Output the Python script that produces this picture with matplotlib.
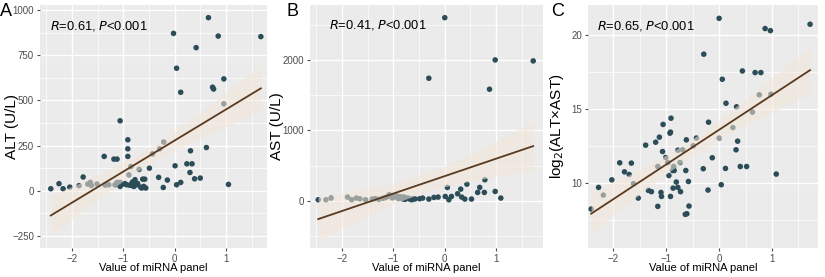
import numpy as np
import matplotlib
matplotlib.use("Agg")
import matplotlib.pyplot as plt
from matplotlib.ticker import MultipleLocator

plt.rcParams['font.family'] = ['Liberation Sans', 'DejaVu Sans']

# ---------------- data ----------------
x_alt = [-2.41, -2.25, -2.17, -2.04, -1.86, -1.78, -1.69, -1.64, -1.62, -1.51, -1.37, -1.35, -1.28,
         -1.18, -1.16, -1.12, -1.12, -1.06, -1.06, -1.06, -1.0, -0.97, -0.93, -0.91, -0.91, -0.91,
         -0.89, -0.87, -0.85, -0.85, -0.82, -0.80, -0.79, -0.77, -0.74, -0.72, -0.69, -0.66, -0.64,
         -0.62, -0.60, -0.58, -0.56, -0.49, -0.43, -0.31, -0.29, -0.22, -0.21, -0.14, -0.02, 0.01,
         0.04, 0.04, 0.12, 0.12, 0.24, 0.30, 0.31, 0.34, 0.39, 0.42, 0.50, 0.62, 0.66, 0.74, 0.76,
         0.85, 0.96, 0.96, 1.05, 1.68]
y_alt = [11, 39, 11, 20, 28, 76, 37, 46, 29, 37, 190, 31, 33,
         175, 33, 175, 46, 46, 387, 24, 37, 40, 33, 282, 232, 190,
         88, 30, 134, 33, 48, 25, 24, 61, 33, 40, 118, 20, 15,
         64, 24, 64, 15, 125, 204, 74, 232, 18, 269, 59, 871, 138,
         678, 33, 545, 46, 149, 101, 221, 149, 66, 792, 70, 239, 958, 573, 563,
         856, 619, 481, 35, 853]

x_ast = [-2.46, -2.31, -2.21, -1.89, -1.81, -1.72, -1.65, -1.54, -1.41, -1.35, -1.28, -1.20, -1.15,
         -1.11, -1.08, -1.05, -1.02, -0.98, -0.95, -0.92, -0.90, -0.88, -0.85, -0.82, -0.80, -0.77,
         -0.74, -0.70, -0.67, -0.64, -0.61, -0.58, -0.49, -0.43, -0.31, -0.31, -0.21, -0.13, 0.00,
         0.01, 0.05, 0.08, 0.13, 0.25, 0.31, 0.33, 0.39, 0.43, 0.52, 0.64, 0.68, 0.77, 0.78, 0.87,
         0.98, 0.98, 1.09, 1.72]
y_ast = [14, 14, 38, 52, 14, 38, 28, 14, 24, 30, 20, 35, 45,
         61, 85, 70, 40, 55, 75, 50, 30, 60, 45, 25, 55, 20,
         40, 35, 20, 15, 30, 25, 28, 38, 24, 1740, 47, 52, 2600,
         61, 189, 14, 61, 99, 165, 52, 24, 236, 24, 118, 189, 118, 298, 1584,
         132, 2000, 38, 1986]

x_log = [-2.42, -2.28, -2.19, -2.03, -1.88, -1.79, -1.70, -1.66, -1.62, -1.53, -1.39, -1.34, -1.28,
         -1.20, -1.16, -1.16, -1.13, -1.10, -1.09, -1.07, -1.06, -1.01, -0.97, -0.95, -0.93, -0.92,
         -0.91, -0.92, -0.88, -0.87, -0.86, -0.85, -0.81, -0.78, -0.78, -0.74, -0.73, -0.69, -0.63,
         -0.62, -0.64, -0.61, -0.58, -0.57, -0.49, -0.43, -0.30, -0.29, -0.21, -0.20, -0.13, 0.00,
         0.00, 0.04, 0.06, 0.12, 0.13, 0.26, 0.32, 0.33, 0.35, 0.40, 0.44, 0.52, 0.63, 0.68, 0.76,
         0.79, 0.87, 0.97, 0.98, 1.08, 1.72]
y_log = [8.25, 9.71, 9.19, 10.22, 11.37, 10.76, 10.58, 11.35, 9.96, 8.99, 12.56, 9.51, 9.42,
         12.76, 8.43, 11.12, 13.10, 9.37, 9.10, 12.13, 13.96, 11.73, 11.39, 10.51, 13.37, 13.44,
         14.38, 9.10, 10.85, 9.66, 11.12, 10.85, 10.07, 12.22, 9.71, 11.39, 9.42, 12.25, 10.85,
         12.92, 7.89, 7.93, 10.11, 8.45, 12.52, 13.04, 10.97, 18.70, 9.53, 14.11, 11.71, 21.12,
         13.04, 9.89, 17.01, 10.99, 15.39, 13.75, 12.25, 15.15, 12.83, 11.12, 17.57, 11.12, 14.79, 17.46, 15.96,
         17.46, 20.43, 20.29, 16.00, 10.61, 20.72]

panel_letters = ["A", "B", "C"]
y_labels = ["ALT (U/L)", "AST (U/L)", r"log$_2$(ALT×AST)"]
r_values = ["0.61", "0.41", "0.65"]
p_text = "0.001"
x_label = "Value of miRNA panel"
x_ticks = [-2, -1, 0, 1]
y_ticks_alt = [-250, 0, 250, 500, 750, 1000]
y_ticks_ast = [0, 1000, 2000]
y_ticks_log = [10, 15, 20]

# ---------------- style ----------------
W, H = 825, 277
fig = plt.figure(figsize=(W / 100, H / 100), dpi=100)

panel_bg = "#EBEBEB"
pt_col = "#2C4C58"
line_col = "#5A3A1F"
ribbon_col = "#F4E6D9"
tick_col = "#4D4D4D"

def px_axes(l, r, t, b):
    return fig.add_axes([l / W, 1 - b / H, (r - l) / W, (b - t) / H])

layouts = [(40, 267, 5, 248), (310, 543, 5, 248), (588, 818, 5, 248)]
xlims = [(-2.62, 1.80), (-2.62, 1.91), (-2.48, 1.87)]
ylims = [(-317, 1028), (-671, 2780), (5.62, 22.02)]
datasets = [(x_alt, y_alt, y_ticks_alt, 125), (x_ast, y_ast, y_ticks_ast, 500), (x_log, y_log, y_ticks_log, 2.5)]
letter_x = [0, 286, 551]
ann_pos = [(0.044, 0.914), (0.08, 0.918), (0.04, 0.915)]
ylab_x = [12, 277, 557]

for i, ((l, r, t, b), xl, yl, (xs, ys, yt, minor)) in enumerate(zip(layouts, xlims, ylims, datasets)):
    ax = px_axes(l, r, t, b)
    ax.set_facecolor(panel_bg)
    for s in ax.spines.values():
        s.set_visible(False)
    ax.set_xlim(*xl)
    ax.set_ylim(*yl)
    ax.set_xticks(x_ticks)
    ax.set_yticks(yt)
    ax.xaxis.set_minor_locator(MultipleLocator(0.5))
    ax.yaxis.set_minor_locator(MultipleLocator(minor))
    ax.grid(which="major", color="white", lw=1.0)
    ax.grid(which="minor", color="white", lw=0.5)
    ax.set_axisbelow(True)
    ax.tick_params(which="major", length=2.5, width=0.8, color="#4D4D4D", labelsize=7,
                   labelcolor=tick_col, pad=1.8)
    ax.tick_params(which="minor", length=0)

    xs_a = np.array(xs, float)
    ys_a = np.array(ys, float)
    ax.scatter(xs_a, ys_a, s=16, color=pt_col, edgecolors="none", zorder=3)

    # linear fit with 95% CI
    n = len(xs_a)
    b1, b0 = np.polyfit(xs_a, ys_a, 1)
    resid = ys_a - (b0 + b1 * xs_a)
    s_err = np.sqrt(np.sum(resid ** 2) / (n - 2))
    xg = np.linspace(xs_a.min(), xs_a.max(), 100)
    se = s_err * np.sqrt(1 / n + (xg - xs_a.mean()) ** 2 / np.sum((xs_a - xs_a.mean()) ** 2))
    yg = b0 + b1 * xg
    ax.fill_between(xg, yg - 1.99 * se, yg + 1.99 * se, color=ribbon_col, alpha=0.55,
                    lw=0, zorder=4)
    ax.plot(xg, yg, color=line_col, lw=1.3, zorder=5)

    ax.text(ann_pos[i][0], ann_pos[i][1], rf"$\it{{R}}$=" + r_values[i] + r", $\it{P}$<" + p_text,
            transform=ax.transAxes, fontsize=9.3, ha="left", va="center", color="black")
    ax.set_xlabel(x_label, fontsize=8, color="black", va="center")
    ax.xaxis.set_label_coords(0.5, -(268 - b) / (b - t))
    ax.set_ylabel(y_labels[i], fontsize=11, color="black", va="center")
    ax.yaxis.set_label_coords((ylab_x[i] - l) / (r - l), 0.5)
    fig.text(letter_x[i] / W, 1 - 12 / H, panel_letters[i], fontsize=13, ha="left", va="center")

fig.savefig("out.png", dpi=100)
